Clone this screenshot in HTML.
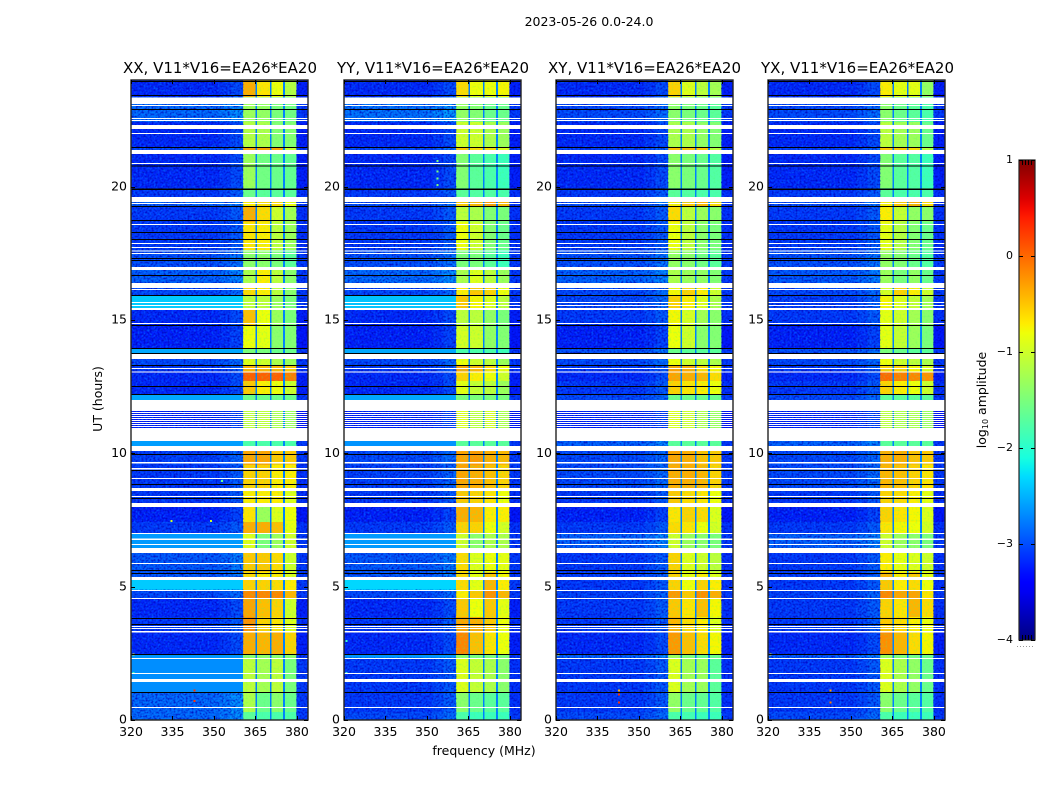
<!DOCTYPE html>
<html lang="en">
<head>
<meta charset="utf-8">
<title>2023-05-26 0.0-24.0</title>
<style>
html,body{margin:0;padding:0;background:#fff;width:1050px;height:800px;overflow:hidden}
svg{display:block}
text{font-family:"DejaVu Sans","Liberation Sans",sans-serif;fill:#000}
</style>
</head>
<body>
<svg id="figure" xmlns="http://www.w3.org/2000/svg" width="1050" height="800" viewBox="0 0 1050 800">
  <defs>
    <filter id="grainLight" filterUnits="objectBoundingBox" x="0" y="0" width="100%" height="100%" color-interpolation-filters="sRGB">
      <feTurbulence type="fractalNoise" baseFrequency="0.5" numOctaves="2" seed="4"/>
      <feColorMatrix type="matrix" values="0 0 0 0 0  0 0 0 0 0.42  0 0 0 0 1  1.8 0 0 0 -0.72"/>
    </filter>
    <filter id="grainDark" filterUnits="objectBoundingBox" x="0" y="0" width="100%" height="100%" color-interpolation-filters="sRGB">
      <feTurbulence type="fractalNoise" baseFrequency="0.5" numOctaves="2" seed="11"/>
      <feColorMatrix type="matrix" values="0 0 0 0 0  0 0 0 0 0  0 0 0 0 0.72  2.0 0 0 0 -0.82"/>
    </filter>
    <filter id="grainBand" filterUnits="objectBoundingBox" x="0" y="0" width="100%" height="100%" color-interpolation-filters="sRGB">
      <feTurbulence type="fractalNoise" baseFrequency="0.5" numOctaves="2" seed="23"/>
      <feColorMatrix type="matrix" values="0 0 0 0 0.3  0 0 0 0 1  0 0 0 0 0.4  1.0 0 0 0 -0.5"/>
    </filter>
    <linearGradient id="jetGradient" x1="0" y1="1" x2="0" y2="0"></linearGradient>
  </defs>
  <rect x="0" y="0" width="1050" height="800" fill="#fff"/>
  <text x="589" y="26" text-anchor="middle" font-size="12.5">2023-05-26 0.0-24.0</text>
  <text x="0" y="0" transform="translate(102,399) rotate(-90)" text-anchor="middle" font-size="12.5">UT (hours)</text>
  <text x="484" y="755" text-anchor="middle" font-size="12.5">frequency (MHz)</text>
  <g id="panels"></g>
  <g id="colorbar"></g>
  <text x="0" y="0" transform="translate(986,400) rotate(-90)" text-anchor="middle" font-size="12.5">log<tspan font-size="8" dy="2">10</tspan><tspan dy="-2"> amplitude</tspan></text>
</svg>
<script>
// Row segments (upper edge of each, in UT hours)
const segmentTopHours = [24.00,23.36,22.43,21.49,21.22,19.95,19.61,19.28,18.68,17.63,16.99,16.39,15.90,15.38,14.81,13.95,13.73,13.28,13.05,12.71,12.22,12.00,10.46,10.09,9.56,8.63,7.99,7.43,7.01,6.26,5.55,5.25,4.88,4.58,3.86,3.30,2.48,2.33,1.01,0.30];

// log10 amplitude per segment: off-band background and sub-bands 1..4
const xxBackground = [-3.2,-2.8,-3.2,-3.0,-3.2,-3.1,-2.85,-3.1,-3.1,-2.95,-2.85,-3.0,-2.38,-3.2,-3.25,-2.55,-3.0,-3.1,-3.2,-3.2,-2.55,-3.25,-2.6,-3.05,-3.1,-3.1,-3.25,-3.1,-2.62,-2.9,-2.9,-2.38,-3.0,-3.2,-3.1,-3.2,-2.65,-2.68,-2.8,-2.8];
const xxSub1 = [-0.35,-1.3,-1.15,-0.3,-1.3,-1.6,-0.7,-0.35,-0.65,-1.4,-1.2,-0.6,-1.1,-0.45,-0.8,-1.5,-0.9,-0.4,0.05,-0.5,-1.6,-1.1,-1.8,-0.3,-0.55,-0.7,-0.65,-0.35,-0.9,-0.5,-0.6,-0.55,-0.15,-0.3,-0.2,-0.35,-1.4,-1.1,-1.2,-1.7];
const xxSub2 = [-0.65,-1.35,-1.2,-0.3,-1.55,-1.7,-0.6,-0.6,-0.7,-1.4,-0.7,-0.7,-1.1,-0.8,-0.85,-1.5,-1.0,-0.4,0.05,-0.7,-1.6,-1.1,-1.8,-0.3,-0.55,-0.7,-1.3,-0.35,-1.5,-0.5,-0.7,-0.55,-0.15,-0.45,-0.55,-0.4,-1.4,-1.25,-1.6,-1.8];
const xxSub3 = [-0.8,-1.5,-1.45,-0.3,-1.6,-1.7,-0.6,-1.0,-1.1,-1.5,-1.1,-1.1,-1.3,-1.3,-1.4,-1.6,-1.2,-0.4,0.05,-0.8,-1.6,-1.2,-1.8,-0.5,-0.7,-0.7,-0.9,-0.45,-1.3,-0.6,-0.7,-0.6,-0.15,-0.55,-0.65,-0.35,-1.4,-1.1,-1.4,-1.8];
const xxSub4 = [-1.15,-1.55,-1.45,-1.0,-1.65,-1.7,-0.8,-1.25,-1.3,-1.7,-1.4,-1.4,-1.5,-1.5,-1.45,-1.6,-1.3,-0.5,-0.1,-1.0,-1.6,-1.3,-1.8,-0.5,-0.7,-0.9,-0.8,-0.85,-1.0,-1.0,-0.9,-0.7,-0.4,-1.0,-0.9,-0.55,-1.4,-1.5,-1.6,-1.8];

const yyBackground = [-3.2,-2.75,-3.2,-3.0,-3.2,-3.1,-2.95,-3.1,-3.1,-2.95,-2.8,-3.0,-2.42,-3.2,-3.25,-2.55,-3.0,-3.1,-3.2,-3.2,-2.55,-3.25,-2.65,-3.0,-3.05,-3.1,-3.25,-3.1,-2.62,-2.9,-2.9,-2.32,-3.0,-3.2,-3.1,-3.2,-2.65,-3.1,-3.1,-3.0];
const yySub1 = [-0.6,-1.35,-1.0,-0.5,-1.45,-1.7,-0.5,-1.1,-0.8,-1.5,-1.2,-0.7,-0.5,-1.1,-0.95,-1.8,-0.8,-0.3,-0.55,-0.85,-1.5,-0.9,-1.7,-0.3,-0.3,-0.5,-0.35,-0.55,-1.0,-0.6,-0.6,-0.6,-0.7,-0.5,-0.3,-0.15,-1.4,-0.9,-1.4,-1.8];
const yySub2 = [-0.8,-1.45,-1.0,-0.6,-1.7,-1.75,-0.4,-1.2,-1.0,-1.5,-0.9,-0.5,-0.75,-1.1,-1.0,-1.8,-1.0,-0.4,-0.7,-1.05,-1.5,-1.1,-1.7,-0.25,-0.35,-0.55,-0.4,-0.55,-1.4,-0.9,-0.85,-0.85,-0.5,-0.8,-0.35,-0.45,-1.5,-1.05,-1.6,-1.9];
const yySub3 = [-0.8,-1.6,-1.2,-0.6,-1.8,-1.75,-0.25,-1.45,-1.45,-1.7,-1.1,-0.55,-0.9,-1.35,-1.35,-1.8,-1.1,-0.6,-0.8,-1.1,-1.5,-0.95,-1.7,-0.35,-0.45,-0.65,-0.7,-0.8,-1.2,-0.8,-0.5,-0.4,-0.2,-0.5,-0.5,-0.65,-1.5,-1.2,-1.7,-1.9];
const yySub4 = [-0.75,-1.6,-1.3,-0.9,-1.9,-1.8,-0.4,-1.5,-1.6,-1.9,-1.3,-0.8,-1.1,-1.5,-1.45,-1.9,-1.3,-0.8,-1.0,-1.3,-1.5,-1.2,-1.7,-0.4,-0.55,-0.8,-0.7,-0.95,-1.2,-0.85,-0.75,-0.7,-0.4,-0.85,-0.8,-0.8,-1.5,-1.4,-1.7,-1.9];

const xyBackground = [-3.2,-3.0,-3.2,-3.05,-3.2,-3.1,-2.95,-3.1,-3.1,-2.95,-2.85,-3.0,-3.0,-3.1,-3.25,-2.95,-3.0,-3.1,-3.2,-3.1,-3.0,-3.25,-2.85,-3.0,-3.0,-3.1,-3.25,-3.1,-2.85,-3.1,-3.05,-3.1,-3.05,-3.1,-3.1,-3.2,-2.85,-3.1,-3.1,-3.0];
const xySub1 = [-0.55,-1.4,-1.2,-0.45,-1.4,-1.7,-0.7,-0.6,-0.8,-1.35,-1.2,-0.75,-0.55,-0.75,-0.8,-1.6,-0.8,-0.3,-0.3,-0.55,-1.6,-0.9,-1.7,-0.3,-0.35,-0.5,-0.65,-0.6,-1.0,-0.55,-0.55,-0.55,-0.25,-0.5,-0.4,-0.25,-1.3,-0.9,-1.35,-1.8];
const xySub2 = [-0.9,-1.5,-1.2,-0.45,-1.5,-1.75,-0.5,-1.1,-1.1,-1.4,-1.3,-0.55,-0.7,-0.95,-1.0,-1.7,-1.0,-0.35,-0.35,-0.65,-1.6,-1.0,-1.7,-0.35,-0.35,-0.6,-0.55,-0.65,-1.3,-0.9,-0.85,-0.8,-0.5,-0.65,-0.6,-0.45,-1.5,-1.25,-1.6,-1.85];
const xySub3 = [-1.1,-1.6,-1.35,-0.5,-1.6,-1.8,-0.4,-1.3,-1.4,-1.55,-1.35,-0.7,-0.9,-1.25,-1.4,-1.7,-1.1,-0.6,-0.4,-0.7,-1.6,-1.2,-1.7,-0.45,-0.4,-0.65,-0.6,-0.8,-1.4,-1.0,-0.7,-0.55,-0.2,-0.45,-0.7,-0.6,-1.6,-1.3,-1.65,-1.9];
const xySub4 = [-1.25,-1.7,-1.45,-1.1,-1.75,-1.8,-0.6,-1.4,-1.5,-1.7,-1.45,-1.0,-1.2,-1.4,-1.45,-1.7,-1.2,-0.75,-0.6,-0.8,-1.6,-1.3,-1.7,-0.5,-0.55,-0.8,-0.9,-0.95,-1.5,-1.1,-0.9,-0.7,-0.35,-0.75,-0.9,-0.75,-1.6,-1.7,-1.75,-1.9];

const yxBackground = [-3.2,-3.0,-3.2,-3.05,-3.2,-3.1,-2.95,-3.1,-3.1,-2.95,-2.9,-3.0,-3.05,-3.1,-3.25,-2.95,-3.0,-3.1,-3.2,-3.1,-3.0,-3.25,-2.85,-3.0,-3.0,-3.1,-3.25,-3.1,-2.85,-3.1,-3.05,-3.1,-3.05,-3.1,-3.1,-3.2,-2.9,-3.1,-3.1,-3.0];
const yxSub1 = [-0.7,-1.4,-1.1,-0.5,-1.45,-1.7,-0.7,-0.7,-0.85,-1.35,-1.3,-0.95,-0.75,-0.85,-0.85,-1.5,-0.8,-0.55,0.0,-0.55,-1.7,-1.1,-1.7,-0.35,-0.4,-0.55,-0.55,-0.65,-1.0,-0.7,-0.4,-0.5,-0.15,-0.55,-0.5,-0.2,-1.3,-0.9,-1.4,-1.8];
const yxSub2 = [-0.85,-1.6,-1.25,-0.5,-1.7,-1.8,-0.5,-1.05,-1.15,-1.45,-1.5,-0.55,-0.9,-1.0,-1.05,-1.6,-1.0,-0.55,-0.1,-0.7,-1.7,-1.2,-1.7,-0.35,-0.45,-0.6,-0.65,-0.75,-1.3,-0.85,-0.7,-0.7,-0.3,-0.65,-0.6,-0.4,-1.5,-1.2,-1.6,-1.9];
const yxSub3 = [-0.85,-1.7,-1.3,-0.6,-1.75,-1.8,-0.35,-1.35,-1.45,-1.6,-1.35,-0.7,-1.05,-1.25,-1.3,-1.7,-1.1,-0.75,-0.15,-0.8,-1.7,-1.2,-1.7,-0.45,-0.55,-0.7,-0.75,-0.8,-1.4,-0.9,-0.5,-0.6,-0.3,-0.4,-0.7,-0.6,-1.55,-1.35,-1.7,-1.9];
const yxSub4 = [-1.35,-1.8,-1.6,-1.1,-1.9,-1.8,-0.6,-1.4,-1.6,-1.75,-1.6,-1.0,-1.25,-1.4,-1.5,-1.7,-1.2,-0.9,-0.2,-1.0,-1.7,-1.3,-1.7,-0.5,-0.65,-0.85,-0.9,-0.95,-1.5,-1.0,-0.85,-0.8,-0.65,-0.6,-0.8,-0.75,-1.6,-1.6,-1.75,-1.9];

// Frequency structure (MHz)
const subBandStarts = [360.5,365.6,370.8,375.6];
const subBandEnds = [365.0,370.2,375.0,379.8];
const gapLevel = [-2.75];
const rampEdges = [352,356,360.5];
const rampOffsets = [0.08,0.2];
const upperBandLevel = [-3.05];
const freqMin = [320];
const freqMax = [384];

// Flagged (white) time ranges [low, high] hours
const flaggedHours = [[23.10,23.34],[23.02,23.06],[22.54,22.58],[22.46,22.50],[22.16,22.31],[21.97,22.01],[21.22,21.38],[20.85,20.89],[19.43,19.61],[19.35,19.39],[18.56,18.60],[17.85,17.89],[17.70,17.74],[17.57,17.61],[17.47,17.51],[16.87,16.99],[16.20,16.39],[16.12,16.16],[15.64,15.67],[15.52,15.56],[15.37,15.45],[14.85,14.89],[13.54,13.72],[13.27,13.31],[13.16,13.20],[13.03,13.07],[11.59,12.00],[10.46,10.91],[10.09,10.27],[9.62,9.67],[9.39,9.45],[9.04,9.07],[8.59,8.70],[8.36,8.40],[7.99,8.14],[6.97,7.01],[6.75,6.81],[6.56,6.60],[6.26,6.45],[5.85,5.89],[5.25,5.36],[4.84,4.88],[4.54,4.57],[3.49,3.52],[3.41,3.45],[3.28,3.34],[2.29,2.32],[1.72,1.76],[1.42,1.54],[0.45,0.49]];
const stripeHours = [11.55,11.48,11.40,11.33,11.25,11.18,11.10,11.03,10.95];
const blackLineHours = [23.96,23.44,22.91,21.49,20.79,19.94,19.91,19.28,18.75,18.30,18.04,17.33,17.25,16.69,15.94,14.81,13.95,13.76,13.31,12.53,12.22,9.98,9.38,8.85,8.32,5.62,5.51,3.83,3.60,2.48,1.05];

// Isolated RFI spikes: panel index, MHz, hour, log10 amplitude
const spikePanels = [0,0,0,0,0,1,1,1,1,1,2,2,2,2,3,3,3,0,0,1,1];
const spikeFreqs = [334.2,348.5,352.5,342.6,342.6,353.5,353.5,353.5,353.5,353.5,342.4,342.4,342.4,320.6,342.3,342.3,320.6,320.6,320.6,320.6,320.6];
const spikeHours = [7.5,7.5,9.0,1.15,0.75,21.0,20.6,20.35,20.1,17.3,1.15,1.0,0.7,2.5,1.15,0.7,2.5,2.5,1.8,3.0,1.8];
const spikeLevels = [-1.0,-1.0,-1.6,0.3,0.3,-1.5,-1.5,-1.5,-1.5,-1.5,-0.4,0.3,0.3,-0.8,-0.3,-0.1,-0.8,-0.8,-1.9,-1.9,-1.9];

const panelTitles = ["XX, V11*V16=EA26*EA20","YY, V11*V16=EA26*EA20","XY, V11*V16=EA26*EA20","YX, V11*V16=EA26*EA20"];
const panelKeys = ["xx","yy","xy","yx"];
const panelBackgrounds = [xxBackground,yyBackground,xyBackground,yxBackground];
const panelSub1 = [xxSub1,yySub1,xySub1,yxSub1];
const panelSub2 = [xxSub2,yySub2,xySub2,yxSub2];
const panelSub3 = [xxSub3,yySub3,xySub3,yxSub3];
const panelSub4 = [xxSub4,yySub4,xySub4,yxSub4];
const xTickValues = [320,335,350,365,380];
const yTickValues = [0,5,10,15,20];
const colorbarTicks = [1,0,-1,-2,-3,-4];

const SVGNS = "http://www.w3.org/2000/svg";
const panelsGroup = document.getElementById("panels");
const colorbarGroup = document.getElementById("colorbar");
const panelLefts = [131,344,556,768];
const titleCenters = [220,433,644.5,857.5];
const titleWidths = [194,192,193,193];
const panelW = 177, plotTop = 80, plotBottom = 720;

function xScale(left, mhz) { return left + (mhz - freqMin[0]) / (freqMax[0] - freqMin[0]) * panelW; }
function yScale(h) { return plotBottom - h / 24 * (plotBottom - plotTop); }
function cbScale(v) { return 640 - (v + 4) / 5 * 480; }

function interp(t, pts) {
  for (let i = 1; i < pts.length; i++) {
    if (t <= pts[i][0]) {
      const a = pts[i - 1], b = pts[i];
      return a[1] + (b[1] - a[1]) * (t - a[0]) / (b[0] - a[0]);
    }
  }
  return pts[pts.length - 1][1];
}
function jet(t) {
  t = Math.max(0, Math.min(1, t));
  const r = interp(t, [[0,0],[0.35,0],[0.66,1],[0.89,1],[1,0.5]]);
  const g = interp(t, [[0,0],[0.125,0],[0.375,1],[0.64,1],[0.91,0],[1,0]]);
  const b = interp(t, [[0,0.5],[0.11,1],[0.34,1],[0.65,0],[1,0]]);
  return "rgb(" + Math.round(r * 255) + "," + Math.round(g * 255) + "," + Math.round(b * 255) + ")";
}
function levelColor(v) { return jet((v + 4) / 5); }

function rectEl(parent, x, y, w, h, fill) {
  const el = document.createElementNS(SVGNS, "rect");
  el.setAttribute("x", x);
  el.setAttribute("y", y);
  el.setAttribute("width", w);
  el.setAttribute("height", h);
  el.setAttribute("fill", fill);
  el.setAttribute("shape-rendering", "crispEdges");
  parent.appendChild(el);
  return el;
}
function lineEl(parent, x1, y1, x2, y2) {
  const el = document.createElementNS(SVGNS, "line");
  el.setAttribute("x1", x1);
  el.setAttribute("y1", y1);
  el.setAttribute("x2", x2);
  el.setAttribute("y2", y2);
  el.setAttribute("stroke", "#000");
  el.setAttribute("stroke-width", "1");
  el.setAttribute("shape-rendering", "crispEdges");
  parent.appendChild(el);
  return el;
}
function textEl(parent, x, y, str, anchor, size) {
  const el = document.createElementNS(SVGNS, "text");
  el.setAttribute("x", x);
  el.setAttribute("y", y);
  el.setAttribute("text-anchor", anchor);
  el.setAttribute("font-size", size);
  el.textContent = str;
  parent.appendChild(el);
  return el;
}

panelKeys.forEach(function (key, p) {
  const left = panelLefts[p];
  const g = document.createElementNS(SVGNS, "g");
  
  
  panelsGroup.appendChild(g);

  const bgs = panelBackgrounds[p];
  const subs = [panelSub1[p], panelSub2[p], panelSub3[p], panelSub4[p]];
  const rightX = xScale(left, subBandEnds[3]);
  const bgW = xScale(left, subBandStarts[0]) - left;

  segmentTopHours.forEach(function (top, s) {
    const bottomH = s + 1 < segmentTopHours.length ? segmentTopHours[s + 1] : 0;
    const y0 = yScale(top), y1 = yScale(bottomH);
    const bg = bgs[s];
    const quiet = bg < -2.7;
    const offBand = rectEl(g, xScale(left, freqMin[0]), y0, xScale(left, rampEdges[0]) - xScale(left, freqMin[0]), y1 - y0, levelColor(bg));
    
    
    rampOffsets.forEach(function (off, r) {
      const ramp = rectEl(g, xScale(left, rampEdges[r]), y0, xScale(left, rampEdges[r + 1]) - xScale(left, rampEdges[r]), y1 - y0, levelColor(quiet ? bg + off : bg));
      
      
    });
    subs.forEach(function (arr, b) {
      const sb = rectEl(g, xScale(left, subBandStarts[b]), y0, xScale(left, subBandEnds[b]) - xScale(left, subBandStarts[b]), y1 - y0, levelColor(arr[s]));
      
      
      const gapEnd = b < 3 ? subBandStarts[b + 1] : freqMax[0];
      const gapLvl = b < 3 ? gapLevel[0] : Math.min(bg, upperBandLevel[0]);
      const gap = rectEl(g, xScale(left, subBandEnds[b]), y0, xScale(left, gapEnd) - xScale(left, subBandEnds[b]), y1 - y0, levelColor(gapLvl));
      
      
    });
    // Texture only on the quiet, dark background rows
    if (quiet) {
      const grain1 = rectEl(g, left, y0, bgW, y1 - y0, "#000");
      grain1.setAttribute("filter", "url(#grainLight)");
      
      
      const grain2 = rectEl(g, left, y0, bgW, y1 - y0, "#000");
      grain2.setAttribute("filter", "url(#grainDark)");
      
      
    }
    const grain3 = rectEl(g, rightX, y0, left + panelW - rightX, y1 - y0, "#000");
    grain3.setAttribute("filter", "url(#grainDark)");
    
    
  });

  subBandStarts.forEach(function (start, b) {
    const x0 = xScale(left, start);
    const bandGrain = rectEl(g, x0, plotTop, xScale(left, subBandEnds[b]) - x0, plotBottom - plotTop, "#000");
    bandGrain.setAttribute("filter", "url(#grainBand)");
    
    
  });

  spikePanels.forEach(function (sp, i) {
    if (sp !== p) return;
    const spike = rectEl(g, xScale(left, spikeFreqs[i]), yScale(spikeHours[i]), 2, 2, levelColor(spikeLevels[i]));
    
    
  });

  flaggedHours.forEach(function (range) {
    const yTop = yScale(range[1]);
    const flag = rectEl(g, left, yTop, panelW, yScale(range[0]) - yTop, "#fff");
    
    
  });
  stripeHours.forEach(function (h) {
    const stripe = rectEl(g, left, yScale(h), panelW, 1, "#fff");
    
    
  });
  blackLineHours.forEach(function (h) {
    const bl = rectEl(g, left, yScale(h), panelW, 1, "#000");
    
    
  });

  // frame
  const frame = document.createElementNS(SVGNS, "rect");
  frame.setAttribute("x", left);
  frame.setAttribute("y", plotTop);
  frame.setAttribute("width", panelW);
  frame.setAttribute("height", plotBottom - plotTop);
  frame.setAttribute("fill", "none");
  frame.setAttribute("stroke", "#222");
  frame.setAttribute("stroke-width", "1.4");
  
  
  g.appendChild(frame);

  xTickValues.forEach(function (v) {
    const x = Math.round(xScale(left, v)) + 0.5;
    const t1 = lineEl(g, x, plotBottom, x, plotBottom - 4);
    
    
    const t2 = lineEl(g, x, plotTop, x, plotTop + 4);
    
    
    const lbl = textEl(g, xScale(left, v), 736, String(v), "middle", 12.5);
    
    
  });
  yTickValues.forEach(function (v) {
    const y = Math.round(yScale(v)) + 0.5;
    const t1 = lineEl(g, left, y, left + 4, y);
    
    
    const t2 = lineEl(g, left + panelW, y, left + panelW - 4, y);
    
    
    const lbl = textEl(g, left - 4, yScale(v) + 3.6, String(v), "end", 12.5);
    
    
  });

  const title = textEl(g, titleCenters[p], 73, panelTitles[p], "middle", 15);
  title.setAttribute("textLength", titleWidths[p]);
  title.setAttribute("lengthAdjust", "spacingAndGlyphs");
  
  
});

// Colorbar
const grad = document.getElementById("jetGradient");
for (let i = 0; i <= 50; i++) {
  const st = document.createElementNS(SVGNS, "stop");
  st.setAttribute("offset", i / 50);
  st.setAttribute("stop-color", jet(i / 50));
  grad.appendChild(st);
}
const cbBar = rectEl(colorbarGroup, 1019, 160, 16, 480, "url(#jetGradient)");


const cbFrame = document.createElementNS(SVGNS, "rect");
cbFrame.setAttribute("x", 1019);
cbFrame.setAttribute("y", 160);
cbFrame.setAttribute("width", 16);
cbFrame.setAttribute("height", 480);
cbFrame.setAttribute("fill", "none");
cbFrame.setAttribute("stroke", "#222");
cbFrame.setAttribute("stroke-width", "1.2");


colorbarGroup.appendChild(cbFrame);
for (let x = 1022; x < 1034; x += 3) {
  const stubTop = lineEl(colorbarGroup, x + 0.5, 160, x + 0.5, 165);
  
  
  const stubBottom = lineEl(colorbarGroup, x + 0.5, 635, x + 0.5, 640);
  
  
}
const cbDots = lineEl(colorbarGroup, 1017, 646.5, 1035, 646.5);
cbDots.setAttribute("stroke", "#999");
cbDots.setAttribute("stroke-dasharray", "1 2");


colorbarTicks.forEach(function (v) {
  const y = Math.round(cbScale(v)) + 0.5;
  const t1 = lineEl(colorbarGroup, 1019, y, 1023, y);
  
  
  const t2 = lineEl(colorbarGroup, 1035, y, 1031, y);
  
  
  const lab = textEl(colorbarGroup, 1013, cbScale(v) + 3, (v < 0 ? "\u2212" + (-v) : String(v)), "end", 11);
  
  
});
</script>
</body>
</html>
